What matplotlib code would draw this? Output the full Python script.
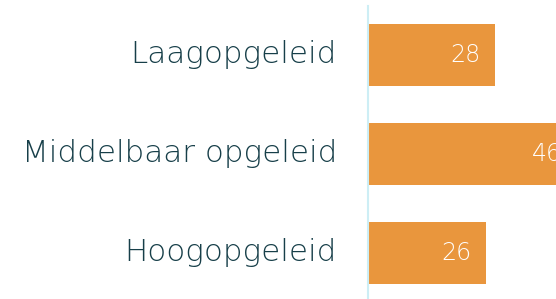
import matplotlib.pyplot as plt

categories = ["Laagopgeleid", "Middelbaar opgeleid", "Hoogopgeleid"]
values = [28, 46, 26]

bar_color = "#E9963D"
text_color = "#173F49"

fig = plt.figure(figsize=(5.56, 2.99), dpi=100)
ax = fig.add_axes([368 / 556, 0, 1 - 368 / 556, 1 - 6 / 299])

y = range(len(categories))
ax.barh(y, values, height=0.63, color=bar_color, left=0)
ax.set_xlim(0, (556 - 368) / 4.54)
ax.set_ylim(2.465, -0.495)

# value labels inside the bars
for i, v in enumerate(values):
    ax.text(v - 3.3, i, str(v), ha="right", va="center", color="white",
            fontsize=17, family="DejaVu Sans", fontweight="light", clip_on=True)

# category labels to the left of the axis
for i, c in enumerate(categories):
    ax.annotate(c, xy=(0, i), xycoords=("axes fraction", "data"),
                xytext=(-31, 0), textcoords="offset pixels",
                ha="right", va="center", color=text_color,
                fontsize=22.3, family="DejaVu Sans", fontweight="light")

ax.set_xticks([])
ax.set_yticks([])
for s in ["top", "right", "bottom"]:
    ax.spines[s].set_visible(False)
ax.spines["left"].set_color("#CDEEF5")
ax.spines["left"].set_linewidth(1.5)

fig.savefig("out.png", dpi=100)
